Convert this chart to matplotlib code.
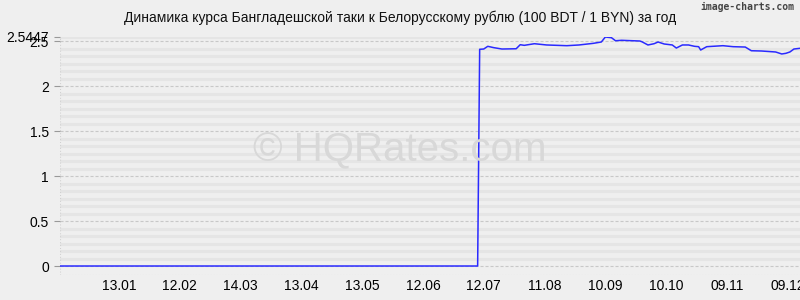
import numpy as np
import pandas as pd
import matplotlib
matplotlib.use("Agg")
import matplotlib.pyplot as plt
import matplotlib.dates as mdates

plt.rcParams['font.family'] = ['Liberation Sans', 'DejaVu Sans']
plt.rcParams['lines.scale_dashes'] = False

# курс 100 BDT в BYN
dates = ["2022-12-15", "2023-07-09", "2023-07-10", "2023-07-12", "2023-07-14",
         "2023-07-17", "2023-07-21", "2023-07-28", "2023-07-30", "2023-08-01",
         "2023-08-06", "2023-08-12", "2023-08-22", "2023-08-28", "2023-09-04",
         "2023-09-08", "2023-09-10", "2023-09-13", "2023-09-15", "2023-09-18",
         "2023-09-27", "2023-09-28", "2023-10-01", "2023-10-04", "2023-10-06",
         "2023-10-09", "2023-10-13", "2023-10-15", "2023-10-18", "2023-10-21",
         "2023-10-24", "2023-10-26", "2023-10-27", "2023-10-30", "2023-11-07",
         "2023-11-12", "2023-11-18", "2023-11-21", "2023-11-26", "2023-12-03",
         "2023-12-06", "2023-12-08", "2023-12-10", "2023-12-12", "2023-12-15"]
rates = [0, 0, 2.408, 2.411, 2.441,
         2.426, 2.411, 2.414, 2.459, 2.452,
         2.470, 2.456, 2.448, 2.456, 2.474,
         2.489, 2.5447, 2.537, 2.503, 2.508,
         2.500, 2.492, 2.456, 2.470, 2.489,
         2.467, 2.456, 2.422, 2.456, 2.456,
         2.441, 2.437, 2.400, 2.437, 2.448,
         2.437, 2.433, 2.392, 2.389, 2.378,
         2.356, 2.363, 2.378, 2.411, 2.419]
ytick_vals = [0, 0.5, 1, 1.5, 2, 2.5, 2.5447]
ytick_labels = ["0", "0.5", "1", "1.5", "2", "2.5", "2.5447"]
xtick_dates = pd.date_range("2023-01-13", periods=12, freq="30D")

title = "Динамика курса Бангладешской таки к Белорусскому рублю (100 BDT / 1 BYN) за год"

bg = "#efefef"
fig = plt.figure(figsize=(8, 3), dpi=100, facecolor=bg)
ax = fig.add_axes([0.075, 0.0833, 0.925, 0.7934])
ax.set_facecolor(bg)

x = pd.to_datetime(dates)
ymax = 2.5447
ax.set_xlim(pd.Timestamp("2022-12-15"), pd.Timestamp("2023-12-15"))
ax.set_ylim(-0.1, ymax)

# сетка
minor_style = dict(color="#dddddd", lw=2.2, ls=(0, (0.72, 0.72)), zorder=1)
for v in np.arange(0, ymax, 1 / 12):
    if abs(v / 0.5 - round(v / 0.5)) < 1e-6:
        ax.axhline(v, color="#c8c8c8", lw=0.8, ls=(0, (2.2, 1.4)), zorder=1)
    else:
        ax.axhline(v, **minor_style)
ax.axhline(ymax, **minor_style)
ax.axhline(-0.1, color="#d0d0d0", lw=0.8, ls=(0, (0.72, 1.4)), zorder=1)
ax.axvline(x[0], color="#d0d0d0", lw=0.8, ls=(0, (0.72, 1.4)), zorder=1)

ax.plot(x, rates, color="#2a2aff", lw=1.1, zorder=3)

for s in ax.spines.values():
    s.set_visible(False)

ax.set_yticks(ytick_vals)
ax.set_yticklabels(ytick_labels)
ax.tick_params(axis="y", length=4, width=0.8, color="#999999", labelsize=10, pad=4)
ax.set_xticks(xtick_dates)
ax.xaxis.set_major_formatter(mdates.DateFormatter("%d.%m"))
ax.tick_params(axis="x", length=0, labelsize=10, pad=3)

fig.text(0.5, 0.94, title, ha="center", va="center", fontsize=10, color="#111111")
fig.text(0.993, 0.977, "image-charts.com", ha="right", va="center", fontsize=7,
         color="#444444", family="DejaVu Sans Mono", weight="bold")
fig.text(0.5, 0.5, "© HQRates.com", ha="center", va="center", fontsize=29,
         color="#d8d8d8", zorder=0)

fig.savefig("out.png", dpi=100, facecolor=bg)
